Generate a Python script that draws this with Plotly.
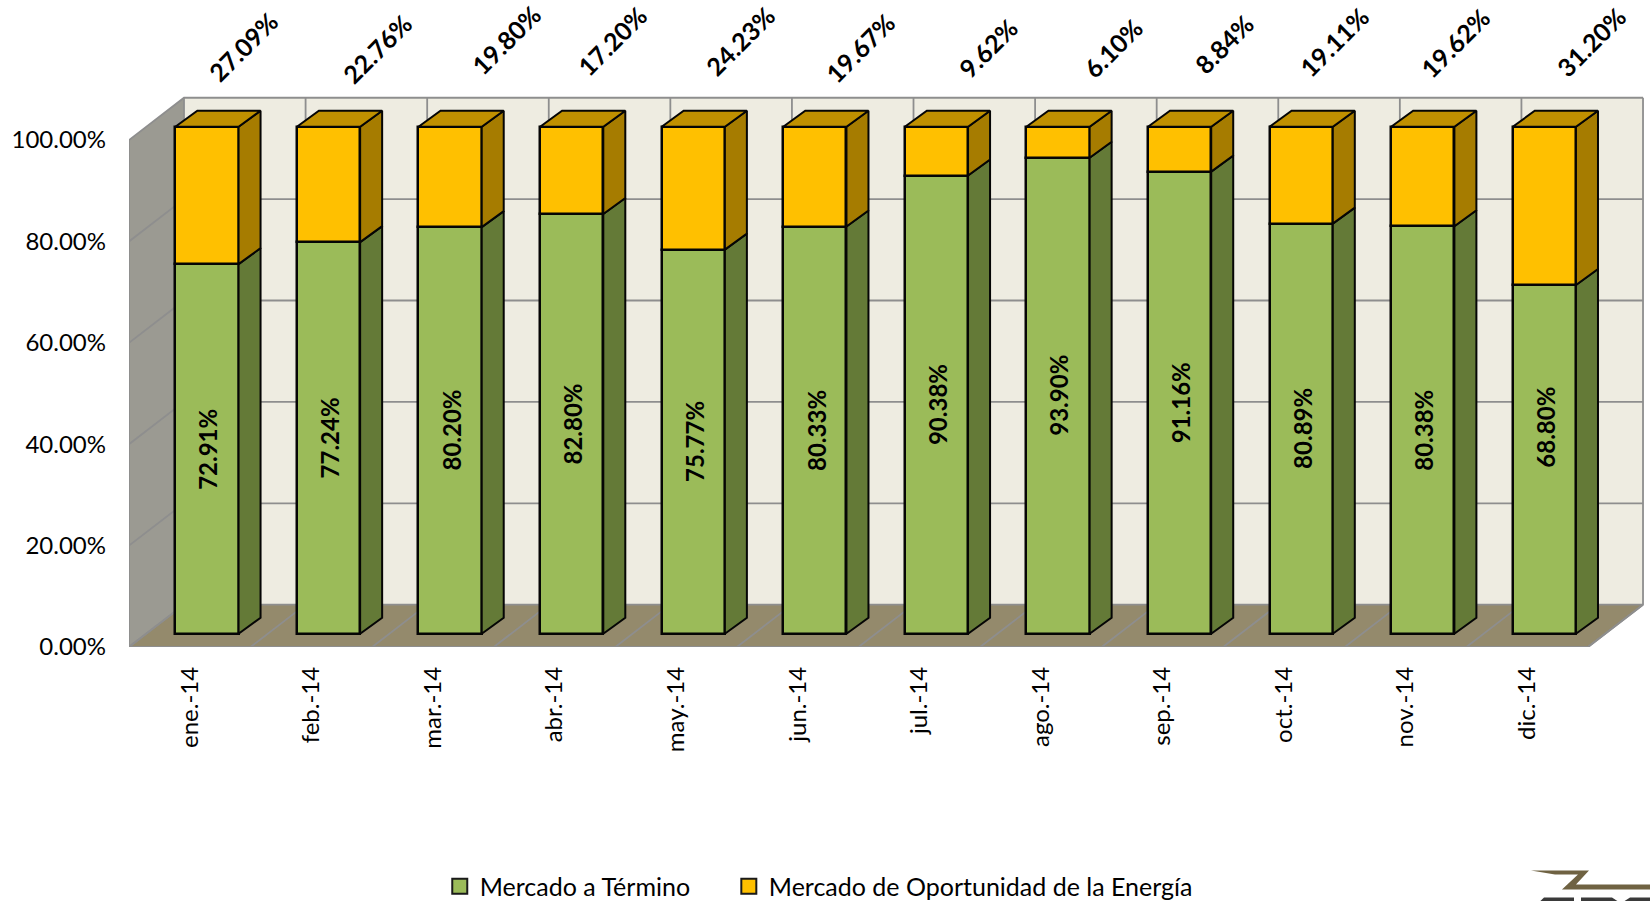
import plotly.graph_objects as go

months = ["ene.-14", "feb.-14", "mar.-14", "abr.-14", "may.-14", "jun.-14",
          "jul.-14", "ago.-14", "sep.-14", "oct.-14", "nov.-14", "dic.-14"]
termino = [72.91, 77.24, 80.20, 82.80, 75.77, 80.33, 90.38, 93.90, 91.16, 80.89, 80.38, 68.80]
oportunidad = [27.09, 22.76, 19.80, 17.20, 24.23, 19.67, 9.62, 6.10, 8.84, 19.11, 19.62, 31.20]
y_ticks = [0, 20, 40, 60, 80, 100]
series_names = ["Mercado a Término", "Mercado de Oportunidad de la Energía"]

# Page geometry of the oblique "3D" projection (pixels)
L, R_EDGE, Y0, Y100 = 129.3, 1650, 646.7, 140.0
PITCH = 121.56
PX_PER_UNIT = (Y0 - Y100) / 100
WALL_DX = 55 / PITCH          # category units
WALL_DY = 42.3 / PX_PER_UNIT  # value units
BAR_X = 0.141
BAR_Y = 2.62
BAR_W = 0.52
BAR_DX = 22 / PITCH
BAR_DY = 16 / PX_PER_UNIT
XMIN, XMAX = -0.5, -0.5 + (R_EDGE - L) / PITCH
YMAX = Y0 / PX_PER_UNIT
FRONT_R = 11.5

# Manual placement of the rotated labels (page pixels)
label_px = [243, 377, 506, 612, 740, 860, 988, 1113, 1224, 1334, 1455, 1591]
label_py = [47, 49, 40, 41, 41, 48, 48, 48, 44, 42, 43, 42]
inner_label_lift = [0, 0, 0, 0, 0, 0, 0, 0, 0, 0, 0, 32]

GRID = "#8e8e8e"
fig = go.Figure()
shapes = []


def data_path(pts, closed=True):
    return "M" + "L".join(f"{a:.5f},{b:.5f}" for a, b in pts) + ("Z" if closed else "")


def wall(pts, fill):
    shapes.append(dict(type="path", xref="x", yref="y", layer="below", path=data_path(pts),
                       fillcolor=fill, line=dict(width=0)))


def grid(pts, width=1.8):
    shapes.append(dict(type="path", xref="x", yref="y", layer="below",
                       path=data_path(pts, closed=False), line=dict(color=GRID, width=width)))


def poly(xs, ys, fill, line="#050505", width=2):
    fig.add_trace(go.Scatter(x=xs, y=ys, mode="lines", fill="toself", fillcolor=fill,
                             line=dict(color=line, width=width), hoverinfo="skip",
                             showlegend=False))


# Walls and floor
BX0, BX1 = XMIN + WALL_DX, FRONT_R + WALL_DX
wall([(BX0, WALL_DY), (BX1, WALL_DY), (BX1, 100 + WALL_DY), (BX0, 100 + WALL_DY)], "#EEECE1")
wall([(XMIN, 0), (BX0, WALL_DY), (BX0, 100 + WALL_DY), (XMIN, 100)], "#9B9A92")
wall([(XMIN, 0), (FRONT_R, 0), (BX1, WALL_DY), (BX0, WALL_DY)], "#948A6C")

# Gridlines
for v in y_ticks:
    grid([(XMIN, v), (BX0, v + WALL_DY), (BX1, v + WALL_DY)])
for i in range(len(months) + 1):
    bx = XMIN + i
    grid([(bx, 0), (bx + WALL_DX, WALL_DY), (bx + WALL_DX, 100 + WALL_DY)])
grid([(XMIN, 100), (XMIN, 0), (FRONT_R, 0), (BX1, WALL_DY)])

# Front faces of the stacked columns
xs = [i + BAR_X for i in range(len(months))]
fig.add_trace(go.Bar(x=xs, y=termino, base=[BAR_Y] * len(months), width=BAR_W,
                     showlegend=False,
                     marker=dict(color="#9BBB59", line=dict(color="#050505", width=2.5)),
                     hovertemplate="%{y:.2f}%<extra></extra>"))
fig.add_trace(go.Bar(x=xs, y=oportunidad, base=[BAR_Y + t for t in termino], width=BAR_W,
                     showlegend=False,
                     marker=dict(color="#FFC000", line=dict(color="#050505", width=2.5)),
                     hovertemplate="%{y:.2f}%<extra></extra>"))

# Side and top faces derived from the same values
side_g_x, side_g_y, side_o_x, side_o_y, top_x, top_y = [], [], [], [], [], []
for x, g, o in zip(xs, termino, oportunidad):
    r = x + BAR_W / 2
    l = x - BAR_W / 2
    y0, y1, y2 = BAR_Y, BAR_Y + g, BAR_Y + g + o
    side_g_x += [r, r + BAR_DX, r + BAR_DX, r, r, None]
    side_g_y += [y0, y0 + BAR_DY, y1 + BAR_DY, y1, y0, None]
    side_o_x += [r, r + BAR_DX, r + BAR_DX, r, r, None]
    side_o_y += [y1, y1 + BAR_DY, y2 + BAR_DY, y2, y1, None]
    top_x += [l, l + BAR_DX, r + BAR_DX, r, l, None]
    top_y += [y2, y2 + BAR_DY, y2 + BAR_DY, y2, y2, None]
poly(side_g_x, side_g_y, "#647A37")
poly(side_o_x, side_o_y, "#A67C00")
poly(top_x, top_y, "#C09000")

# Legend entries, one legend each so the spacing can follow the reference
for name, colour, lg in zip(series_names, ["#9BBB59", "#FFC000"], ["legend", "legend2"]):
    fig.add_trace(go.Scatter(x=[None], y=[None], mode="markers", name=name, legend=lg,
                             marker=dict(symbol="square", size=15, color=colour,
                                         line=dict(color="#1a1a1a", width=2)),
                             hoverinfo="skip"))

annotations = []
# Rotated labels for the upper series
for i, v in enumerate(oportunidad):
    center = L + (i + 0.5) * PITCH
    annotations.append(dict(x=i, y=100, xref="x", yref="y", text=f"{v:.2f}%", showarrow=False,
                            textangle=-45, xanchor="center", yanchor="middle",
                            xshift=label_px[i] - center, yshift=Y100 - label_py[i],
                            font=dict(family="Lato", size=25, color="#000000", weight="bold")))
# Vertical labels inside the lower series
for i, v in enumerate(termino):
    annotations.append(dict(x=xs[i], y=BAR_Y + v / 2, xref="x", yref="y", text=f"{v:.2f}%",
                            showarrow=False, textangle=-90, xanchor="center", yanchor="middle",
                            xshift=1, yshift=inner_label_lift[i],
                            font=dict(family="Lato", size=24, color="#000000", weight="bold")))


# Logo fragment at the bottom-right corner of the page
def page_path(pts):
    return data_path([((a - L) / (R_EDGE - L), (Y0 - b) / Y0) for a, b in pts])


def logo(pts, fill):
    shapes.append(dict(type="path", xref="paper", yref="paper", layer="above",
                       line=dict(width=0), fillcolor=fill, path=page_path(pts)))


logo([(1531, 870), (1589, 870), (1576, 884), (1650, 884), (1650, 889),
      (1562, 889), (1578, 874), (1555, 874)], "#6f6242")
logo([(1540, 901), (1544, 897), (1574, 897), (1574, 901)], "#3a3a3a")
logo([(1581, 901), (1581, 897), (1612, 897), (1618, 901)], "#3a3a3a")
logo([(1624, 901), (1630, 897), (1650, 897), (1650, 901)], "#3a3a3a")

tick_font = dict(family="Lato", size=24, color="#000000")
legend_common = dict(orientation="h", xanchor="left", y=(Y0 - 886) / Y0, yanchor="middle",
                     font=dict(family="Lato", size=25, color="#000000"),
                     itemsizing="trace", bgcolor="rgba(0,0,0,0)")
fig.update_layout(
    width=1650, height=901, autosize=False,
    margin=dict(l=L, r=0, t=0, b=901 - Y0, pad=0, autoexpand=False),
    paper_bgcolor="#FFFFFF", plot_bgcolor="#FFFFFF",
    barmode="overlay", bargap=0,
    font=dict(family="Lato", color="#000000"),
    annotations=annotations, shapes=shapes,
    legend=dict(x=(440 - L) / (R_EDGE - L), **legend_common),
    legend2=dict(x=(729 - L) / (R_EDGE - L), **legend_common),
    xaxis=dict(range=[XMIN, XMAX], tickmode="array", tickvals=list(range(len(months))),
               ticktext=months, tickangle=-90, tickfont=tick_font, showgrid=False,
               zeroline=False, showline=False, ticks="", ticklabelstandoff=14,
               automargin=False, fixedrange=True),
    yaxis=dict(range=[0, YMAX], tickmode="array", tickvals=y_ticks,
               ticktext=[f"{v:.2f}%" for v in y_ticks], tickfont=tick_font, showgrid=False,
               zeroline=False, showline=False, ticks="", ticklabelstandoff=22,
               automargin=False, fixedrange=True),
)
fig.write_html("out.html", config=dict(displayModeBar=False),
               post_script="document.body.style.margin='0';document.documentElement.style.overflow='hidden';")
